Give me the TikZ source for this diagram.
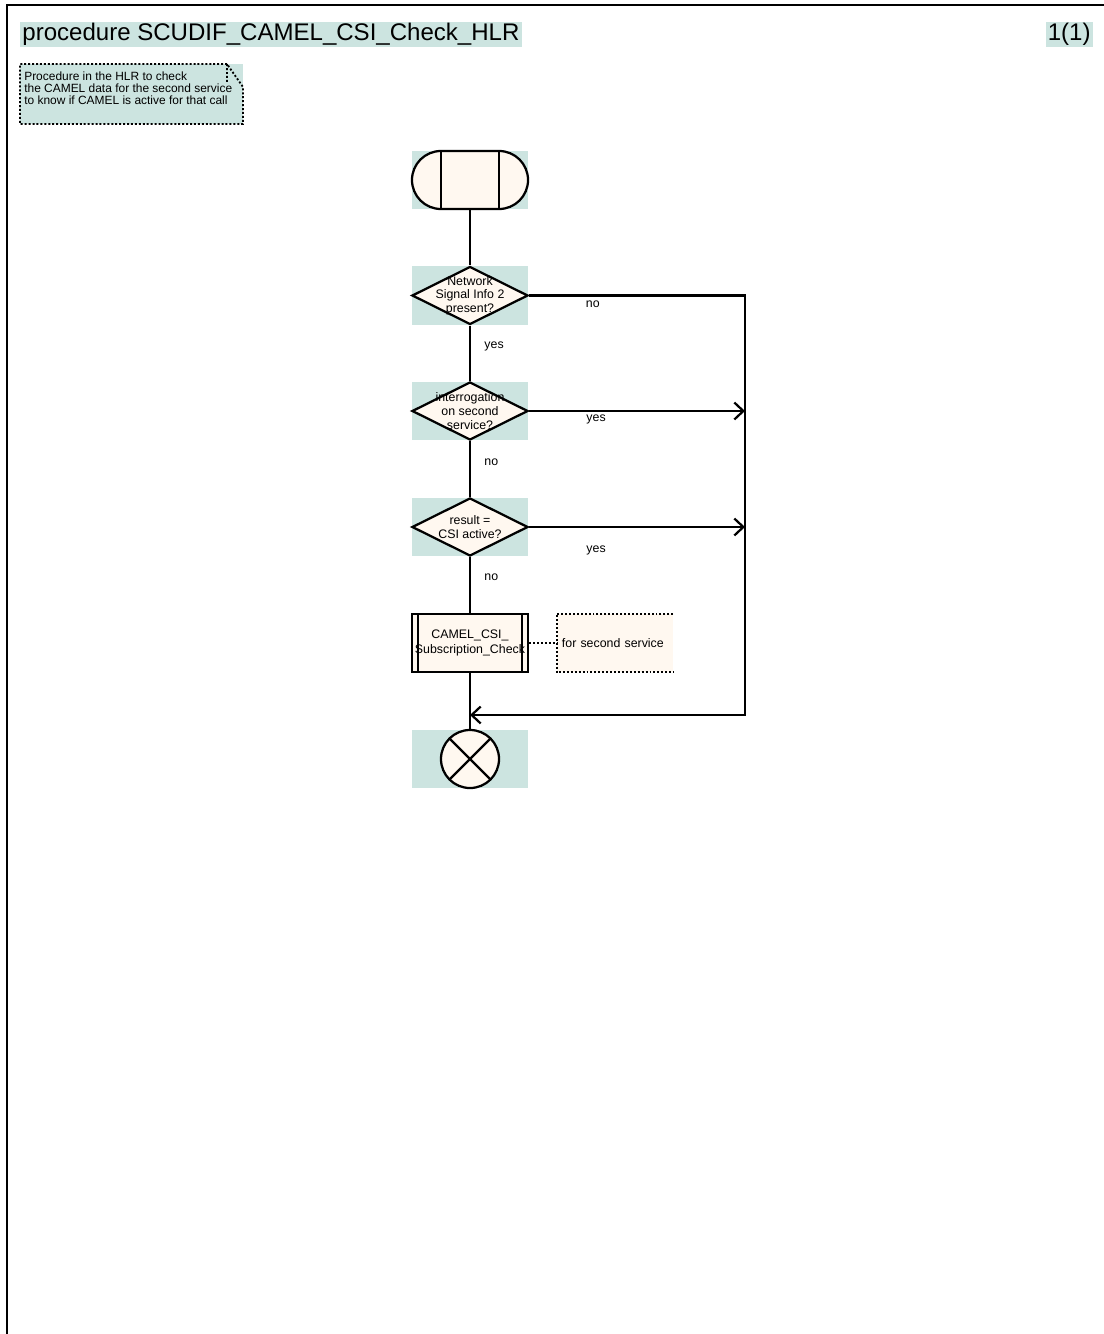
\documentclass[tikz,border=0pt]{standalone}
\usepackage{fontspec}
\setmainfont{Liberation Sans}
\usetikzlibrary{shapes.geometric,shapes.misc,arrows.meta}

\definecolor{sdlteal}{RGB}{204,228,224}
\definecolor{sdlcream}{RGB}{255,248,240}
\newcommand{\diagfont}{\fontsize{8.8}{9.7}\selectfont}

\tikzset{
  flow/.style={line width=1.6pt},
  arr/.style={-{Straight Barb[length=6.4pt,width=12pt]}},
  cmtline/.style={line width=1.3pt,dash pattern=on 1.4pt off 1.4pt},
  symbg/.style={fill=sdlteal,minimum width=2.9cm,minimum height=1.45cm,inner sep=0pt},
  startsym/.style={rounded rectangle,draw,line width=1.6pt,fill=sdlcream,
    minimum width=2.9cm,minimum height=1.45cm,inner sep=0pt,
    path picture={
      \draw[line width=1.6pt] ([xshift=-0.725cm]path picture bounding box.north) -- ([xshift=-0.725cm]path picture bounding box.south);
      \draw[line width=1.6pt] ([xshift=0.725cm]path picture bounding box.north) -- ([xshift=0.725cm]path picture bounding box.south);}},
  decision/.style={diamond,draw,line width=1.6pt,fill=sdlcream,
    minimum width=2.9cm,minimum height=1.45cm,inner sep=0pt},
  dectext/.style={font=\diagfont,align=center,inner sep=0pt},
  callbox/.style={rectangle,draw,line width=1.6pt,fill=sdlcream,font=\fontsize{8.8}{10.7}\selectfont,
    minimum width=2.9cm,minimum height=1.45cm,inner sep=0pt,align=center,
    path picture={
      \draw[line width=1.6pt] ([xshift=-1.3cm]path picture bounding box.north) -- ([xshift=-1.3cm]path picture bounding box.south);
      \draw[line width=1.6pt] ([xshift=1.3cm]path picture bounding box.north) -- ([xshift=1.3cm]path picture bounding box.south);}},
  notebox/.style={fill=sdlcream,font=\diagfont,minimum height=1.45cm,
    inner xsep=3.5pt,text width=2.65cm,align=left},
  endsym/.style={circle,draw,line width=1.6pt,fill=sdlcream,minimum size=1.45cm,inner sep=0pt,
    path picture={
      \draw[line width=1.6pt] (path picture bounding box.north west) -- (path picture bounding box.south east);
      \draw[line width=1.6pt] (path picture bounding box.south west) -- (path picture bounding box.north east);}},
  lbl/.style={font=\diagfont,inner sep=0pt},
  heading/.style={fill=sdlteal,font=\fontsize{17.1}{19}\selectfont,inner xsep=1.5pt,inner ysep=0pt,
    text height=13.2pt,text depth=4.2pt}
}

\begin{document}
\begin{tikzpicture}[x=0.025cm,y=-0.025cm]
    \useasboundingbox (0,0) rectangle (1104,1334);
    % frame
    \draw[line width=1.6pt] (1104,5) -- (7,5) -- (7,1334);
    \node[heading,anchor=west] (title) at (20,34.5) {procedure SCUDIF\_CAMEL\_CSI\_Check\_HLR};
    \node[heading,anchor=east] (page) at (1093,34.5) {1(1)};

    % comment in the upper left corner
    \fill[sdlteal] (20,64) rectangle (243,124);
    \draw[cmtline] (227,64) -- (20,64) -- (20,124) -- (243,124) -- (243,87) -- (227,64) -- (227,82);
    \node[anchor=north west,inner sep=0pt,align=left,font=\fontsize{8.5}{8.55}\selectfont] (cmt) at (24,71.5)
        {Procedure in the HLR to check\\the CAMEL data for the second service\\to know if CAMEL is active for that call};

    % symbols
    \node[symbg] (startbg) at (470,180) {};
    \node[startsym] (start) at (startbg) {};
    \node[symbg] (d1bg) at (470,295.5) {};
    \node[decision,label={[dectext]center:{Network\\Signal Info 2\\present?}}] (d1) at (d1bg) {};
    \node[symbg] (d2bg) at (470,411) {};
    \node[decision,label={[dectext]center:{interrogation\\on second\\service?}}] (d2) at (d2bg) {};
    \node[symbg] (d3bg) at (470,527) {};
    \node[decision,label={[dectext]center:{result =\\CSI active?}}] (d3) at (d3bg) {};
    \node[callbox] (call) at (470,643) {CAMEL\_CSI\_\\Subscription\_Check};
    \node[notebox] (note) at (615,643) {for second service};
    \node[symbg] (finishbg) at (470,759) {};
    \node[endsym] (finish) at (finishbg) {};

    \coordinate (railtop) at (745,295.5);
    \coordinate (rail2) at (745,411);
    \coordinate (rail3) at (745,527);
    \coordinate (railbot) at (745,715);
    \coordinate (join) at (470,715);

    % connectors
    \draw[flow] (start.south) -- (d1.north);
    \draw[flow] (d1.south) -- node[lbl,pos=0.38,right=9.5pt]{yes} (d2.north);
    \draw[flow] (d2.south) -- node[lbl,pos=0.38,right=9.5pt]{no} (d3.north);
    \draw[flow] (d3.south) -- node[lbl,pos=0.36,right=9.5pt]{no} (call.north);
    \draw[flow] (call.south) -- (finish.north);
    \draw[flow,arr] (d1.east) -- node[lbl,pos=0.295,below=2.7pt]{no} (railtop) -- (railbot) -- (join);
    \draw[flow,arr] (d2.east) -- node[lbl,pos=0.31,below=1.8pt]{yes} (rail2);
    \draw[flow,arr] (d3.east) -- node[lbl,pos=0.31,below=12.4pt]{yes} (rail3);
    \draw[cmtline] (call.east) -- (note.west);
    \draw[cmtline] (note.north east) -- (note.north west) -- (note.south west) -- (note.south east);
\end{tikzpicture}
\end{document}
